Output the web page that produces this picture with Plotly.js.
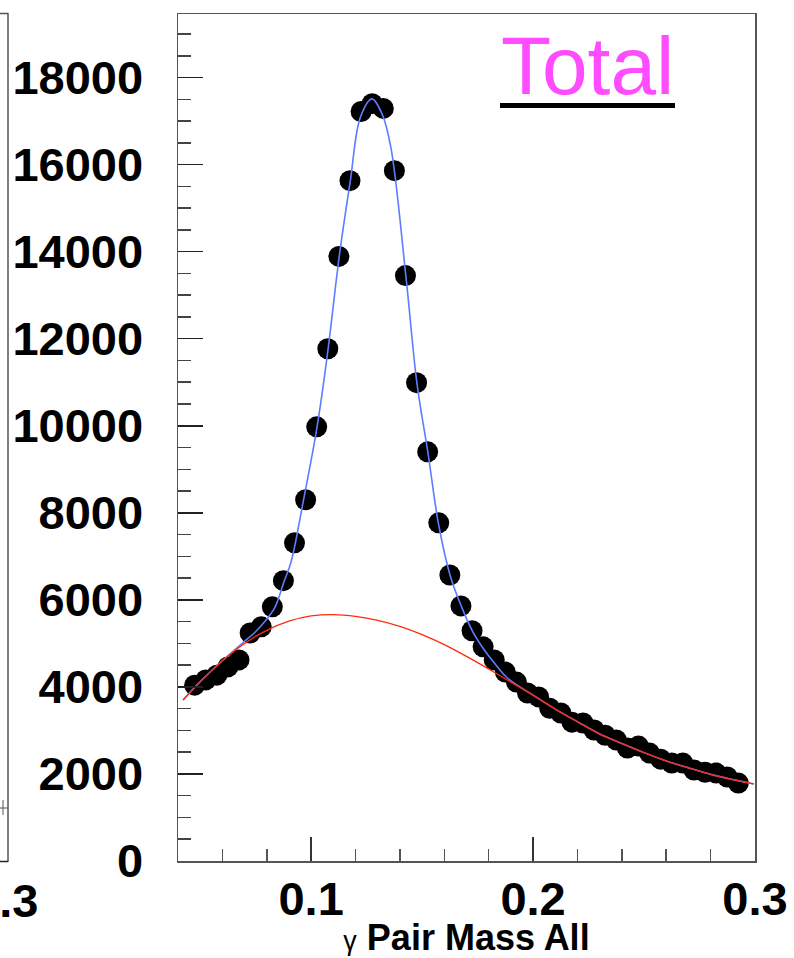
<!DOCTYPE html>
<html>
<head>
<meta charset="utf-8">
<script src="https://cdn.plot.ly/plotly-3.0.1.min.js"></script>
<style>html,body{margin:0;padding:0;background:#fff;}#chart{width:794px;height:958px;}</style>
</head>
<body>
<div id="chart"></div>
<script>
// Bin centres (gamma pair mass)
const massBins = [0.0475,0.0525,0.0575,0.0625,0.0675,0.0725,0.0775,0.0825,0.0875,0.0925,
  0.0975,0.1025,0.1075,0.1125,0.1175,0.1225,0.1275,0.1325,0.1375,0.1425,
  0.1475,0.1525,0.1575,0.1625,0.1675,0.1725,0.1775,0.1825,0.1875,0.1925,
  0.1975,0.2025,0.2075,0.2125,0.2175,0.2225,0.2275,0.2325,0.2375,0.2425,
  0.2475,0.2525,0.2575,0.2625,0.2675,0.2725,0.2775,0.2825,0.2875,0.2925];
// Entries per bin
const counts = [4040,4160,4270,4460,4620,5240,5380,5840,6440,7310,
  8300,9975,11770,13890,15630,17220,17400,17290,15860,13450,
  10990,9400,7770,6570,5860,5290,4920,4620,4340,4110,
  3860,3770,3510,3400,3190,3170,3010,2890,2780,2595,
  2640,2480,2340,2250,2250,2090,2040,2020,1930,1790];
// Total fit curve (signal + background)
const fitX = [0.0423,0.05,0.06,0.0693,0.0746,0.0794,0.0836,0.0878,0.0911,0.0965,
  0.1026,0.1076,0.1126,0.1176,0.1222,0.1274,0.1319,0.1359,0.1427,0.1477,
  0.1526,0.1574,0.1627,0.1677,0.1728,0.1777,0.183,0.1883,0.20,0.21,
  0.22,0.23,0.24,0.25,0.26,0.27,0.28,0.29,0.2995];
const fitY = [3700,4120,4600,5020,5250,5520,5820,6420,6900,8280,
  9950,11750,13870,15610,17090,17510,17170,16400,13430,10960,
  9390,7740,6550,5850,5270,4870,4520,4210,3810,3490,
  3200,2920,2700,2490,2300,2140,1990,1870,1770];
// Background curve
const bkgX = [0.0423,0.05,0.06,0.07,0.08,0.09,0.10,0.11,0.12,0.13,
  0.14,0.15,0.16,0.17,0.18,0.19,0.20,0.21,0.22,0.23,
  0.24,0.25,0.26,0.27,0.28,0.29,0.2995];
const bkgY = [3700,4120,4600,5000,5300,5510,5630,5660,5620,5530,
  5390,5200,4970,4700,4410,4110,3810,3490,3200,2920,
  2700,2490,2300,2140,1990,1870,1770];

const xTitle = "<span style='font-size:27px;font-weight:normal'>γ</span> <b>Pair Mass All</b>";
const label = "Total";

const W = 794, H = 958;
const L = 178, R = 755, T = 14, B = 861;
const pw = R - L, ph = B - T;
const px = v => (v - L) / pw;
const py = v => (B - v) / ph;

const traces = [
  {x: massBins, y: counts, mode: 'markers', marker: {color: '#000', size: 21, line: {width: 0}}},
  {x: fitX, y: fitY, mode: 'lines', line: {color: '#5f7cff', width: 1.6, shape: 'spline'}, hoverinfo: 'skip'},
  {x: bkgX, y: bkgY, mode: 'lines', line: {color: '#ff2a0a', width: 1.3, shape: 'spline'}, hoverinfo: 'skip'}
];

const axisFont = {family: 'Liberation Sans, Arial, sans-serif', size: 47, color: '#000', weight: 'bold'};

const layout = {
  width: W, height: H,
  margin: {l: L, r: W - R, t: T, b: H - B, pad: 0},
  paper_bgcolor: '#fff', plot_bgcolor: '#fff',
  showlegend: false,
  font: {family: 'Liberation Sans, Arial, sans-serif', color: '#000'},
  xaxis: {
    range: [0.04, 0.3], tick0: 0, dtick: 0.1, tickformat: '.1f',
    ticks: 'inside', ticklen: 24, tickwidth: 1.5, tickcolor: '#333',
    minor: {dtick: 0.02, tick0: 0, ticks: 'inside', ticklen: 12, tickwidth: 1.5, tickcolor: '#555'},
    showline: true, mirror: true, linecolor: '#555', linewidth: 1.5,
    showgrid: false, zeroline: false,
    tickfont: axisFont, ticklabelstandoff: -4,
    title: {text: xTitle, font: {family: 'Liberation Sans, Arial, sans-serif', size: 36, color: '#000'}, standoff: 22}
  },
  yaxis: {
    range: [0, 19460], tick0: 0, dtick: 2000, tickformat: 'd',
    ticks: 'inside', ticklen: 25, tickwidth: 1.5, tickcolor: '#222',
    minor: {dtick: 500, ticks: 'inside', ticklen: 13, tickwidth: 1.5, tickcolor: '#444'},
    showline: true, mirror: true, linecolor: '#555', linewidth: 1.5,
    showgrid: false, zeroline: false,
    tickfont: axisFont, ticklabelstandoff: 24
  },
  annotations: [
    {xref: 'paper', yref: 'paper', x: px(587), y: py(66), xanchor: 'center', yanchor: 'middle',
     text: label, showarrow: false, font: {family: 'Liberation Sans, Arial, sans-serif', size: 82, color: '#ff4cff'}},
    {xref: 'paper', yref: 'paper', x: px(40), y: py(900), xanchor: 'right', yanchor: 'middle',
     text: '<b>0.3</b>', showarrow: false, font: {family: 'Liberation Sans, Arial, sans-serif', size: 47, color: '#000'}}
  ],
  shapes: [
    {type: 'rect', xref: 'paper', yref: 'paper', x0: px(500), x1: px(675), y0: py(108), y1: py(103),
     fillcolor: '#000', line: {width: 0}},
    {type: 'line', xref: 'paper', yref: 'paper', x0: px(8), x1: px(8), y0: py(862), y1: py(13), line: {color: '#555', width: 1.5}},
    {type: 'line', xref: 'paper', yref: 'paper', x0: px(-2), x1: px(8), y0: py(13.5), y1: py(13.5), line: {color: '#555', width: 1.5}},
    {type: 'line', xref: 'paper', yref: 'paper', x0: px(-2), x1: px(8), y0: py(861.5), y1: py(861.5), line: {color: '#222', width: 1.5}},
    {type: 'line', xref: 'paper', yref: 'paper', x0: px(0), x1: px(8), y0: py(808), y1: py(808), line: {color: '#555', width: 1}},
    {type: 'line', xref: 'paper', yref: 'paper', x0: px(3), x1: px(3), y0: py(815), y1: py(800), line: {color: '#555', width: 1}}
  ]
};

Plotly.newPlot('chart', traces, layout, {staticPlot: true, displayModeBar: false});
</script>
</body>
</html>
